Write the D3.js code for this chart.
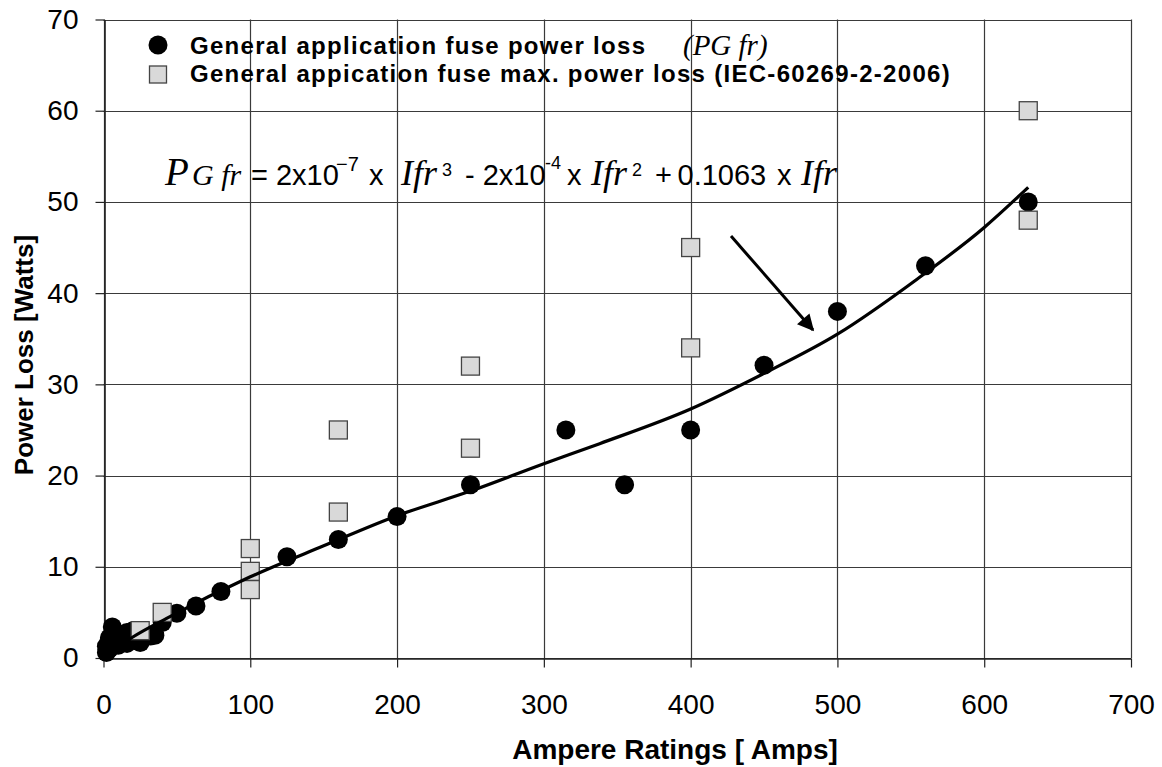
<!DOCTYPE html>
<html><head><meta charset="utf-8">
<script src="https://cdn.jsdelivr.net/npm/d3@7"></script>
<style>body{margin:0;background:#fff} svg{display:block}</style>
</head><body>
<svg id="c" width="1162" height="767"></svg>
<script>
const ampTicks = [0,100,200,300,400,500,600,700];
const wattTicks = [0,10,20,30,40,50,60,70];

// General application fuse power loss (PG fr) - filled circles
const circleAmps  = [2,2,4,4,6,6,8,10,10,12,16,16,20,20,25,25,32,35,40,50,63,80,100,125,160,200,250,315,355,400,450,500,560,630];
const circleWatts = [0.6,1.3,1.0,2.2,1.6,3.4,2.0,1.4,2.6,1.8,1.6,2.8,2.0,3.0,1.7,2.8,2.4,2.5,3.9,4.9,5.7,7.3,8.5,11.1,13.0,15.5,19.0,25.0,19.0,25.0,32.1,38.0,43.0,50.0];

// General appication fuse max. power loss (IEC-60269-2-2006) - squares
const squareAmps  = [25,40,100,100,100,160,160,250,250,400,400,630,630];
const squareWatts = [3.0,5.0,7.5,9.5,12.0,16.0,25.0,23.0,32.0,34.0,45.0,48.0,60.0];

// fitted trend curve
const fitAmps  = [0,20,43,100,150,200,250,300,338,400,450,500,554,600,630];
const fitWatts = [0,2.3,4.35,8.9,12.3,15.6,18.3,21.3,23.5,27.3,31.2,35.5,41.5,47.2,51.6];

const legendLabels = ["General application fuse power loss", "General appication fuse max. power loss (IEC-60269-2-2006)"];
const xTitle = "Ampere Ratings [ Amps]";
const yTitle = "Power Loss [Watts]";

const SANS = "'Liberation Sans', Arial, sans-serif";
const SERIF = "'Liberation Serif', 'Times New Roman', serif";

const svg = d3.select('#c');
const x = d3.scaleLinear().domain([0,700]).range([103.5,1131]);
const y = d3.scaleLinear().domain([0,70]).range([658,19.5]);
const gridCol = '#3a3a3a';

// grid
const grid = svg.append('g');
grid.selectAll('line.v').data(ampTicks).join('line').attr('class','v')
  .attr('x1', d => Math.round(x(d))+0.5).attr('x2', d => Math.round(x(d))+0.5)
  .attr('y1', y(0)).attr('y2', y(70)).attr('stroke', gridCol).attr('stroke-width', 1.2);
grid.selectAll('line.h').data(wattTicks).join('line').attr('class','h')
  .attr('y1', d => Math.round(y(d))+0.5).attr('y2', d => Math.round(y(d))+0.5)
  .attr('x1', x(0)).attr('x2', x(700)).attr('stroke', gridCol).attr('stroke-width', 1.2);

// axes
const xAxis = svg.append('g').attr('transform', `translate(0,${Math.round(y(0))+0.5})`)
  .call(d3.axisBottom(x).tickValues(ampTicks).tickSize(9).tickSizeOuter(0).tickPadding(27).tickFormat(d3.format('d')));
const yAxis = svg.append('g').attr('transform', `translate(${Math.round(x(0))+0.5},0)`)
  .call(d3.axisLeft(y).tickValues(wattTicks).tickSize(9).tickSizeOuter(0).tickPadding(17).tickFormat(d3.format('d')));
[xAxis, yAxis].forEach(g => {
  g.select('.domain').attr('stroke', '#222').attr('stroke-width', 1.6);
  g.selectAll('.tick line').attr('stroke', '#222').attr('stroke-width', 1.2);
  g.selectAll('.tick text').attr('fill', '#000').style('font-family', SANS).style('font-size', '28px');
});

// circles
svg.append('g').selectAll('circle').data(circleAmps.map((a,i) => [a, circleWatts[i]])).join('circle')
  .attr('cx', d => x(d[0])).attr('cy', d => y(d[1])).attr('r', 9.5).attr('fill', '#000');

// squares
const S = 18;
svg.append('g').selectAll('rect').data(squareAmps.map((a,i) => [a, squareWatts[i]])).join('rect')
  .attr('x', d => x(d[0]) - S/2).attr('y', d => y(d[1]) - S/2).attr('width', S).attr('height', S)
  .attr('fill', '#d9d9d9').attr('stroke', '#444').attr('stroke-width', 1.3);

// fit curve
const line = d3.line().x(d => x(d[0])).y(d => y(d[1])).curve(d3.curveMonotoneX);
svg.append('path').datum(fitAmps.map((a,i) => [a, fitWatts[i]]))
  .attr('d', line).attr('fill', 'none').attr('stroke', '#000').attr('stroke-width', 3.2);

// arrow
const defs = svg.append('defs');
defs.append('marker').attr('id','ah').attr('viewBox','0 0 10 10').attr('refX', 9).attr('refY', 5)
  .attr('markerWidth', 6.5).attr('markerHeight', 5.5).attr('markerUnits','strokeWidth').attr('orient','auto')
  .append('path').attr('d','M0,0 L10,5 L0,10 Z').attr('fill','#000');
svg.append('line').attr('x1', 731).attr('y1', 236).attr('x2', 813).attr('y2', 330)
  .attr('stroke', '#000').attr('stroke-width', 3).attr('marker-end', 'url(#ah)');

// legend
const lg = svg.append('g');
lg.append('circle').attr('cx', 158).attr('cy', 45).attr('r', 9.5).attr('fill', '#000');
lg.append('rect').attr('x', 149.5).attr('y', 66).attr('width', 17).attr('height', 17)
  .attr('fill', '#d9d9d9').attr('stroke', '#444').attr('stroke-width', 1.3);
lg.append('text').attr('x', 190).attr('y', 53.5).text(legendLabels[0])
  .style('font-family', SANS).style('font-weight', 'bold').style('font-size', '24px').style('letter-spacing', '1.3px');
lg.append('text').attr('x', 190).attr('y', 81.5).text(legendLabels[1])
  .style('font-family', SANS).style('font-weight', 'bold').style('font-size', '24px').style('letter-spacing', '1.3px');
lg.append('text').attr('x', 683).attr('y', 55).text('(PG fr)')
  .style('font-family', SERIF).style('font-style', 'italic').style('font-size', '29px');

// equation
const eq = svg.append('text').attr('y', 185).attr('fill', '#000');
const parts = [
  {t:'P', x:165, f:SERIF, s:39, it:true},
  {t:'G fr', x:192, f:SERIF, s:30, it:true},
  {t:'= 2x10', x:251, f:SANS, s:29},
  {t:'\u22127', x:336, f:SANS, s:20, dy:-14},
  {t:'x', x:369, f:SANS, s:29},
  {t:'Ifr', x:401, f:SERIF, s:36, it:true},
  {t:'3', x:442, f:SANS, s:18, dy:-9},
  {t:'- 2x10', x:465, f:SANS, s:29},
  {t:'-4', x:545, f:SANS, s:18, dy:-16},
  {t:'x', x:567, f:SANS, s:29},
  {t:'Ifr', x:591, f:SERIF, s:36, it:true},
  {t:'2', x:632, f:SANS, s:18, dy:-9},
  {t:'+', x:655, f:SANS, s:29},
  {t:'0.1063', x:677.5, f:SANS, s:29},
  {t:'x', x:777, f:SANS, s:29},
  {t:'Ifr', x:801, f:SERIF, s:36, it:true}
];
parts.forEach(p => {
  eq.append('tspan').attr('x', p.x).attr('y', 185 + (p.dy || 0)).text(p.t)
    .style('font-family', p.f).style('font-size', p.s + 'px').style('font-style', p.it ? 'italic' : 'normal');
});

// axis titles
svg.append('text').attr('x', 675).attr('y', 759).attr('text-anchor', 'middle').text(xTitle)
  .style('font-family', SANS).style('font-weight', 'bold').style('font-size', '28px');
svg.append('text').attr('transform', 'translate(33,355) rotate(-90)').attr('text-anchor', 'middle').text(yTitle)
  .style('font-family', SANS).style('font-weight', 'bold').style('font-size', '26px');
</script>
</body></html>
